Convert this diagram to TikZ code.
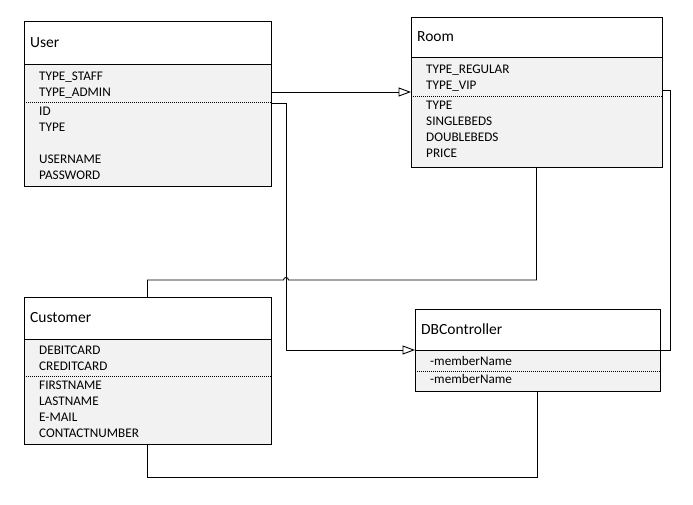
\documentclass[tikz,border=0pt]{standalone}
\usepackage{fontspec}
\setmainfont{Carlito}
\usetikzlibrary{positioning,arrows.meta}
\definecolor{bodygray}{HTML}{F2F2F2}
\tikzset{
	classhead/.style={draw, fill=white, line width=0.9pt, outer sep=0pt, inner sep=0pt, anchor=north west},
	classbody/.style={draw, fill=bodygray, line width=0.9pt, outer sep=0pt, inner sep=0pt},
	title/.style={inner sep=0pt, font=\fontsize{15.5}{18}\selectfont},
	attrs/.style={inner sep=0pt, anchor=north west, align=left, font=\fontsize{13.2}{16}\selectfont},
	sep/.style={line width=0.6pt, dash pattern=on 1pt off 1pt},
	link/.style={line width=0.9pt},
	gen/.style={line width=0.9pt, -{Triangle[open, length=12.5pt, width=9pt]}}
}

\begin{document}
\begin{tikzpicture}[x=1pt, y=-1pt]
		%%%%% START %%%%%
		\useasboundingbox (0,0) rectangle (693,504);
		
		% User
		\node[classhead, minimum width=247pt, minimum height=43pt] (userhead) at (24,21) {};
		\node[title, right=6pt of userhead.west] (usertitle) {User};
		\node[classbody, minimum width=247pt, minimum height=122pt, below=0pt of userhead] (userbody) {};
		\node[attrs] (userconsts) at ([shift={(15,5.1)}]userbody.north west) {\strut TYPE\_STAFF\\TYPE\_ADMIN};
		\draw[sep] ([shift={(0,38)}]userbody.north west) -- ([shift={(0,38)}]userbody.north east);
		\node[attrs] (userfields) at ([shift={(15,39.8)}]userbody.north west) {\strut ID\\TYPE\\~\\USERNAME\\PASSWORD};
		
		% Room
		\node[classhead, minimum width=251pt, minimum height=40pt] (roomhead) at (411,17) {};
		\node[title, right=6pt of roomhead.west] (roomtitle) {Room};
		\node[classbody, minimum width=251pt, minimum height=110pt, below=0pt of roomhead] (roombody) {};
		\node[attrs] (roomconsts) at ([shift={(15,5.1)}]roombody.north west) {\strut TYPE\_REGULAR\\TYPE\_VIP};
		\draw[sep] ([shift={(0,39.7)}]roombody.north west) -- ([shift={(0,39.7)}]roombody.north east);
		\node[attrs] (roomfields) at ([shift={(15,40.8)}]roombody.north west) {\strut TYPE\\SINGLEBEDS\\DOUBLEBEDS\\PRICE};
		
		% Customer
		\node[classhead, minimum width=247pt, minimum height=42pt] (customerhead) at (24,297) {};
		\node[title, right=6pt of customerhead.west] (customertitle) {Customer};
		\node[classbody, minimum width=247pt, minimum height=105pt, below=0pt of customerhead] (customerbody) {};
		\node[attrs] (customerconsts) at ([shift={(15,3.8)}]customerbody.north west) {\strut DEBITCARD\\CREDITCARD};
		\draw[sep] ([shift={(0,37.3)}]customerbody.north west) -- ([shift={(0,37.3)}]customerbody.north east);
		\node[attrs] (customerfields) at ([shift={(15,38.8)}]customerbody.north west) {\strut FIRSTNAME\\LASTNAME\\E-MAIL\\CONTACTNUMBER};
		
		% DBController
		\node[classhead, minimum width=245pt, minimum height=41pt] (dbhead) at (415,309) {};
		\node[title, right=6pt of dbhead.west] (dbtitle) {DBController};
		\node[classbody, minimum width=245pt, minimum height=41pt, below=0pt of dbhead] (dbbody) {};
		\node[attrs] (dbconsts) at ([shift={(15,3.8)}]dbbody.north west) {\strut -memberName};
		\draw[sep] ([shift={(0,21)}]dbbody.north west) -- ([shift={(0,21)}]dbbody.north east);
		\node[attrs] (dbfields) at ([shift={(15,22.1)}]dbbody.north west) {\strut -memberName};
		
		% connectors
		\draw[gen] ([shift={(0,28)}]userbody.north east) -- ([shift={(0,28)}]userbody.north east -| roombody.west);
		\draw[gen] ([shift={(0,39.5)}]userbody.north east) -- ++(15,0) coordinate (ubend) |- (dbhead.south west);
		\draw[link] ([shift={(0,33)}]roombody.north east) -- ++(8,0) |- (dbhead.south east);
		\draw[link] (roombody.south) -- ++(0,113) coordinate (rbend)
			-- ([shift={(2.5,0)}]ubend |- rbend) .. controls +(0,-3.3) and +(0,-3.3) .. ([shift={(-2.5,0)}]ubend |- rbend)
			-| (customerhead.north);
		\draw[link] (customerbody.south) -- ++(0,33) -| (dbbody.south);
		
		%%%%% END %%%%%
	\end{tikzpicture}
\end{document}
